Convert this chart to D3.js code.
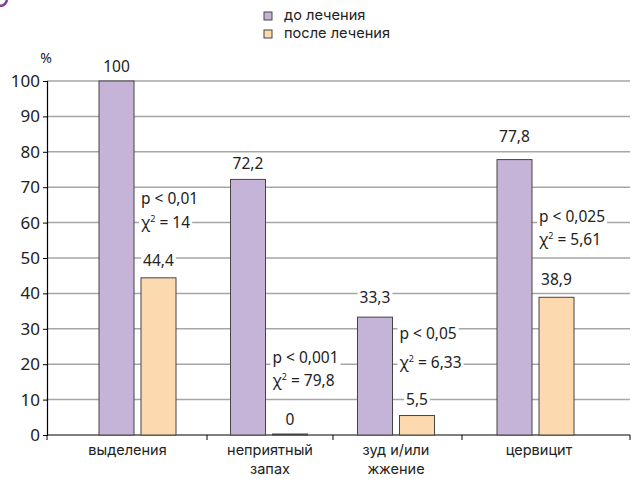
<!DOCTYPE html>
<html><head><meta charset="utf-8">
<script src="https://cdn.jsdelivr.net/npm/d3@7"></script>
<style>body{margin:0;background:#fff}svg{display:block}text{font-family:"Noto Sans",sans-serif;fill:#222}</style>
</head><body>
<script>
const categories = [["выделения"], ["неприятный","запах"], ["зуд и/или","жжение"], ["цервицит"]];
const seriesNames = ["до лечения", "после лечения"];
const before = [100, 72.2, 33.3, 77.8];
const after = [44.4, 0, 5.5, 38.9];
const beforeLabels = ["100", "72,2", "33,3", "77,8"];
const afterLabels = ["44,4", "0", "5,5", "38,9"];
const pLabels = ["p < 0,01", "p < 0,001", "p < 0,05", "p < 0,025"];
const chiLabels = ["14", "79,8", "6,33", "5,61"];
const yTicks = [0,10,20,30,40,50,60,70,80,90,100];

// layout (pixels / anchors)
const W = 631, H = 479;
const groupCenters = [137.5, 269, 396, 535.5];
const boundaries = [47, 207, 333, 462, 630];
const labelCenters = [127.5, 270, 396, 539];
const beforeLabelGap = [15, 16, 20, 24];
const afterLabelGap = [18, 16, 17, 18];
const pAnchor = [67, 22, 28.8, 61.9];
const chiAnchor = [60.2, 15.5, 20.6, 55.4];
const purple = "#c5b3d8", orange = "#fdd9b0";

const svg = d3.select("body").append("svg").attr("width", W).attr("height", H);
const idx = categories.map((d,i)=>i);
const x = d3.scaleOrdinal().domain(idx).range(groupCenters);
const y = d3.scaleLinear().domain([0,100]).range([435,81]);
const barW = 35, gap = 3.5;

// fragment of a letter at top-left (cropped in the reference)
svg.append("path").attr("d","M-1,5.5 Q5,7 7,0").attr("fill","none").attr("stroke","#7a3ea6").attr("stroke-width",2.6);

// gridlines
svg.append("g").selectAll("line").data(yTicks.filter(t=>t>0)).join("line")
  .attr("x1",47).attr("x2",630).attr("y1",d=>y(d)).attr("y2",d=>y(d))
  .attr("stroke","#a6a6a6").attr("stroke-width",1.5);

// y axis
const yAxis = d3.axisLeft(y).tickValues(yTicks).tickSize(4).tickPadding(3).tickFormat(d3.format("d"));
const gy = svg.append("g").attr("transform","translate(47,0)").call(yAxis);
gy.select(".domain").attr("stroke","#000").attr("stroke-width",1.2);
gy.selectAll(".tick line").attr("stroke","#000");
gy.selectAll(".tick text").style("font-size","17px").style("fill","#222").attr("font-family","Noto Sans");
svg.append("text").attr("x",46).attr("y",63).attr("text-anchor","middle").style("font-size","14px").text("%");

// x axis
svg.append("line").attr("x1",47).attr("x2",630).attr("y1",435).attr("y2",435).attr("stroke","#000").attr("stroke-width",1.2);
svg.append("g").selectAll("line").data(boundaries).join("line")
  .attr("x1",d=>d).attr("x2",d=>d).attr("y1",435).attr("y2",440).attr("stroke","#000");

// bars
svg.append("g").selectAll("rect").data(before).join("rect")
  .attr("x",(d,i)=>x(i)-gap-barW).attr("y",d=>y(d)).attr("width",barW).attr("height",d=>y(0)-y(d))
  .attr("fill",purple).attr("stroke","#444").attr("stroke-width",1);
svg.append("g").selectAll("rect").data(after).join("rect")
  .attr("x",(d,i)=>x(i)+gap).attr("y",d=>y(d)-(d===0?1:0)).attr("width",barW).attr("height",d=>Math.max(y(0)-y(d),1))
  .attr("fill",d=>d===0?"#333":orange).attr("stroke","#444").attr("stroke-width",1);

function bgText(g, tx, ty, str, anchor, sup){
  const t = g.append("text").attr("x",tx).attr("y",ty).attr("text-anchor",anchor||"start").style("font-size","15.5px");
  if(sup){
    t.append("tspan").text("χ");
    t.append("tspan").attr("dy",-6).style("font-size","9px").text("2");
    t.append("tspan").attr("dy",6).text(" = "+str);
  } else t.text(str);
  const bb = t.node().getBBox();
  g.insert("rect","text:last-of-type").attr("x",bb.x-2).attr("y",bb.y+2).attr("width",bb.width+4).attr("height",bb.height-4).attr("fill","#fff");
  return t;
}

const lab = svg.append("g");
idx.forEach(i=>{
  bgText(lab.append("g"), x(i)-gap-barW/2, y(before[i])-beforeLabelGap[i]+6, beforeLabels[i], "middle");
  bgText(lab.append("g"), x(i)+gap+barW/2, y(after[i])-afterLabelGap[i]+6, afterLabels[i], "middle");
  bgText(lab.append("g"), x(i)+gap, y(pAnchor[i])+6, pLabels[i], "start");
  bgText(lab.append("g"), x(i)+gap, y(chiAnchor[i])+6, chiLabels[i], "start", true);
});

// category labels (one text per line)
const catLines = [];
categories.forEach((lines,i)=>lines.forEach((t,j)=>catLines.push({t, i, j})));
svg.append("g").selectAll("text").data(catLines).join("text")
  .attr("x",d=>labelCenters[d.i]).attr("y",d=>455+d.j*18.5).attr("text-anchor","middle")
  .style("font-family","Inter, 'Noto Sans', sans-serif").style("font-size","14.5px")
  .text(d=>d.t);

// legend
const leg = svg.append("g");
seriesNames.forEach((n,i)=>{
  leg.append("rect").attr("x",264).attr("y",12+i*18).attr("width",8).attr("height",8)
    .attr("fill",i?orange:purple).attr("stroke","#444").attr("stroke-width",1);
  leg.append("text").attr("x",284).attr("y",20+i*18).style("font-family","Inter, 'Noto Sans', sans-serif")
    .style("font-size","14.6px").text(n);
});
</script>
</body></html>
